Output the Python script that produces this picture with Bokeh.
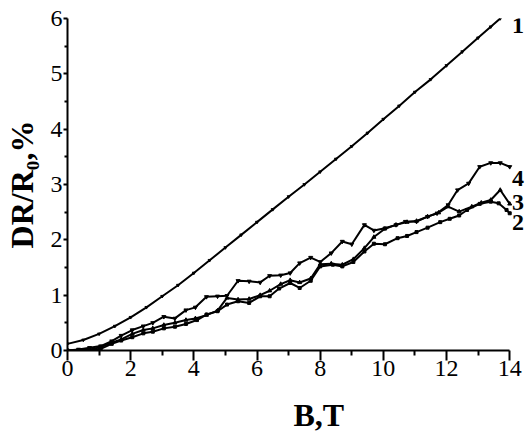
from bokeh.plotting import figure
from bokeh.models import Range1d, FixedTicker, Title
from bokeh.core.properties import value
from bokeh.embed import file_html
from bokeh.resources import INLINE

# ---- data ----
x1 = [0, 0.5, 1, 1.5, 2, 2.5, 3, 3.5, 4, 4.5, 5, 5.5, 6, 6.5, 7, 7.5, 8, 8.5, 9, 9.5, 10, 10.5, 11, 11.5, 12, 12.5, 13, 13.4, 13.7]
y1 = [0.12, 0.19, 0.3, 0.44, 0.6, 0.78, 0.98, 1.18, 1.4, 1.63, 1.86, 2.09, 2.32, 2.55, 2.78, 3.0, 3.23, 3.46, 3.69, 3.93, 4.18, 4.42, 4.67, 4.9, 5.15, 5.4, 5.65, 5.85, 6.0]

x2 = [0, 0.35, 0.7, 1.05, 1.4, 1.7, 2.05, 2.4, 2.7, 3.05, 3.4, 3.75, 4.1, 4.4, 4.75, 5.05, 5.4, 5.75, 6.1, 6.4, 6.7, 7.05, 7.35, 7.7, 8.0, 8.4, 8.7, 9.05, 9.4, 9.7, 10.05, 10.45, 10.75, 11.05, 11.4, 11.8, 12.1, 12.4, 12.65, 13.05, 13.4, 13.65, 13.9, 14.0]
y2 = [0, 0, 0, 0.03, 0.12, 0.18, 0.24, 0.31, 0.34, 0.4, 0.43, 0.48, 0.55, 0.65, 0.71, 0.83, 0.89, 0.86, 0.98, 0.98, 1.12, 1.22, 1.13, 1.26, 1.52, 1.55, 1.52, 1.6, 1.79, 1.93, 1.92, 2.03, 2.07, 2.14, 2.22, 2.32, 2.38, 2.44, 2.54, 2.65, 2.69, 2.66, 2.54, 2.48]

x3 = [0, 0.35, 0.7, 1.05, 1.4, 1.7, 2.05, 2.4, 2.7, 3.05, 3.4, 3.75, 4.05, 4.4, 4.75, 5.05, 5.4, 5.75, 6.1, 6.4, 6.75, 7.05, 7.35, 7.7, 8.0, 8.35, 8.7, 9.05, 9.4, 9.7, 10.05, 10.4, 10.75, 11.05, 11.4, 11.75, 12.05, 12.4, 12.8, 13.1, 13.4, 13.7, 14.0]
y3 = [0, 0, 0.02, 0.06, 0.14, 0.2, 0.3, 0.37, 0.4, 0.46, 0.5, 0.55, 0.58, 0.64, 0.72, 0.95, 0.92, 0.93, 1.0, 1.08, 1.2, 1.27, 1.23, 1.3, 1.56, 1.57, 1.55, 1.65, 1.85, 2.05, 2.2, 2.27, 2.32, 2.34, 2.42, 2.49, 2.6, 2.51, 2.6, 2.67, 2.72, 2.9, 2.65]

x4 = [0, 0.35, 0.7, 1.05, 1.4, 1.7, 2.05, 2.4, 2.7, 3.05, 3.4, 3.75, 4.05, 4.4, 4.75, 5.05, 5.4, 5.75, 6.1, 6.4, 6.75, 7.05, 7.35, 7.7, 8.0, 8.35, 8.7, 9.0, 9.4, 9.7, 10.05, 10.4, 10.7, 11.05, 11.4, 11.7, 12.05, 12.35, 12.7, 13.05, 13.4, 13.7, 14.0]
y4 = [0, 0.02, 0.05, 0.08, 0.17, 0.27, 0.37, 0.44, 0.5, 0.61, 0.58, 0.73, 0.78, 0.97, 0.98, 0.99, 1.26, 1.25, 1.23, 1.35, 1.36, 1.4, 1.58, 1.68, 1.6, 1.76, 1.97, 1.92, 2.27, 2.17, 2.21, 2.27, 2.33, 2.33, 2.42, 2.48, 2.63, 2.9, 3.02, 3.32, 3.39, 3.39, 3.32]

x_ticks = [0, 2, 4, 6, 8, 10, 12, 14]
x_minor = [1, 3, 5, 7, 9, 11, 13]
y_ticks = [0, 1, 2, 3, 4, 5, 6]
y_minor = [0.5, 1.5, 2.5, 3.5, 4.5, 5.5]

curve_labels = ["1", "4", "3", "2"]
label_y = [5.87, 3.11, 2.67, 2.32]
label_x = [14.07, 14.07, 14.07, 14.07]

FONT = "Liberation Serif"

p = figure(width=525, height=448, output_backend="svg", toolbar_location=None,
           x_range=Range1d(0, 14.5), y_range=Range1d(0, 6),
           min_border_left=67, min_border_right=0, min_border_top=18, min_border_bottom=97)
p.outline_line_color = None
p.grid.visible = False
p.background_fill_color = "white"
p.border_fill_color = "white"

p.xaxis.ticker = FixedTicker(ticks=x_ticks, minor_ticks=x_minor)
p.yaxis.ticker = FixedTicker(ticks=y_ticks, minor_ticks=y_minor)
p.xaxis.bounds = (0, 14)

for ax in (p.xaxis[0], p.yaxis[0]):
    ax.axis_line_width = 2
    ax.axis_line_color = "black"
    ax.major_tick_line_width = 2
    ax.minor_tick_line_width = 2
    ax.major_tick_line_color = "black"
    ax.minor_tick_line_color = "black"
    ax.major_tick_in = 0
    ax.minor_tick_in = 0
    ax.major_label_text_font = FONT
    ax.major_label_text_font_size = "24px"
    ax.major_label_text_color = "black"

p.xaxis.major_tick_out = 10
p.xaxis.minor_tick_out = 5
p.xaxis.major_label_standoff = 0
p.yaxis.major_tick_out = 4
p.yaxis.minor_tick_out = 3
p.yaxis.major_label_standoff = 1

p.yaxis.axis_label = "DR/R\u2080,%"
p.yaxis.axis_label_text_font = FONT
p.yaxis.axis_label_text_font_style = "bold"
p.yaxis.axis_label_text_font_size = "32px"
p.yaxis.axis_label_text_color = "black"
p.yaxis.axis_label_standoff = 8

series = [
    (x1, y1, "inverted_triangle", 3),
    (x2, y2, "square", 3),
    (x3, y3, "triangle", 4),
    (x4, y4, "inverted_triangle", 4),
]
for xs, ys, mk, ms in series:
    p.line(xs, ys, line_color="black", line_width=2, line_join="round")
    p.scatter(xs, ys, marker=mk, size=ms, fill_color="black", line_color="black")

p.text(x=label_x, y=label_y, text=curve_labels, text_font=value(FONT),
       text_font_style="bold", text_font_size="24px", text_baseline="middle",
       text_align="left", text_color="black")

xt = Title(text="B,T", align="left", offset=226, standoff=32, text_font=FONT,
           text_font_style="bold", text_font_size="32px", text_color="black")
p.add_layout(xt, "below")

open("out.html", "w").write(file_html(p, INLINE))
